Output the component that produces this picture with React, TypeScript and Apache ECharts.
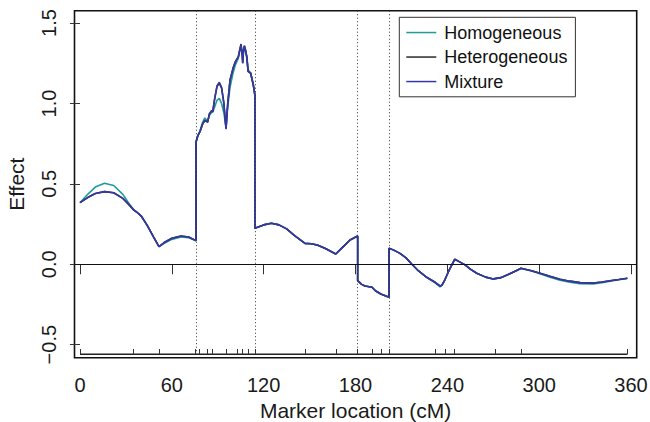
import React, { useRef, useEffect } from "react";
import * as echarts from "echarts";

// Marker locations (cM) along the chromosome
const positions = [
  0, 5, 10, 16, 22, 28, 33, 35, 37, 40, 44, 48, 51.6, 55, 60, 66, 71, 75.8,
  75.8, 77, 78.4, 80, 81.5, 83.4, 84.5, 86, 86.7, 88, 89.5, 91, 92.5, 94, 95.4, 96.5, 98, 100, 101.5, 103.4, 104.5, 105.2, 106, 106.3, 106.8, 107.4, 108.2, 109, 109.8, 111.5, 113.2, 114.2,
  114.2, 120, 125, 130, 135, 140, 147, 151, 155, 160, 167.1, 172, 176.4, 181.4,
  181.4, 184, 186.2, 190.8, 193, 196.5, 201.9,
  201.9, 205, 209, 213, 216.7, 221, 226.5, 232, 235.2, 236.5, 238.3, 241, 244.8, 248, 251.6, 255, 259.2, 265, 270, 275, 280, 285, 288.1, 295, 300.6, 307, 313.6, 320, 326.7, 335.4, 341, 346.3, 352, 357.6,
];

const homogeneous = [
  0.383, 0.435, 0.48, 0.504, 0.49, 0.435, 0.365, 0.34, 0.325, 0.3, 0.24, 0.17, 0.11, 0.13, 0.155, 0.17, 0.165, 0.147,
  0.76, 0.8, 0.83, 0.88, 0.91, 0.89, 0.925, 0.945, 0.945, 0.98, 1.02, 1.032, 1.0, 0.94, 0.85, 0.98, 1.1, 1.19, 1.24, 1.28, 1.33, 1.35, 1.31, 1.27, 1.32, 1.345, 1.32, 1.28, 1.21, 1.19, 1.12, 1.06,
  0.224, 0.245, 0.255, 0.245, 0.22, 0.18, 0.13, 0.128, 0.12, 0.1, 0.064, 0.11, 0.151, 0.176,
  -0.102, -0.125, -0.135, -0.143, -0.165, -0.185, -0.205,
  0.1, 0.088, 0.068, 0.04, 0.002, -0.04, -0.081, -0.115, -0.14, -0.13, -0.098, -0.04, 0.031, 0.015, -0.004, -0.03, -0.056, -0.08, -0.092, -0.084, -0.063, -0.04, -0.026, -0.042, -0.059, -0.08, -0.099, -0.112, -0.121, -0.122, -0.115, -0.105, -0.096, -0.088,
];

const heterogeneous = [
  0.383, 0.415, 0.44, 0.452, 0.445, 0.41, 0.36, 0.338, 0.325, 0.3, 0.24, 0.17, 0.11, 0.135, 0.162, 0.176, 0.17, 0.147,
  0.76, 0.8, 0.825, 0.87, 0.895, 0.885, 0.935, 0.955, 0.95, 1.03, 1.105, 1.125, 1.095, 1.0, 0.845, 1.0, 1.145, 1.22, 1.26, 1.29, 1.34, 1.37, 1.3, 1.25, 1.33, 1.36, 1.33, 1.29, 1.2, 1.188, 1.115, 1.053,
  0.224, 0.245, 0.255, 0.245, 0.22, 0.18, 0.13, 0.128, 0.12, 0.1, 0.064, 0.11, 0.151, 0.176,
  -0.102, -0.125, -0.135, -0.143, -0.165, -0.185, -0.205,
  0.1, 0.088, 0.068, 0.04, 0.002, -0.04, -0.081, -0.112, -0.135, -0.13, -0.098, -0.04, 0.031, 0.015, -0.004, -0.03, -0.056, -0.08, -0.091, -0.083, -0.062, -0.04, -0.025, -0.04, -0.056, -0.075, -0.093, -0.105, -0.114, -0.116, -0.11, -0.102, -0.095, -0.087,
];

const mixture = [
  0.383, 0.415, 0.44, 0.452, 0.445, 0.41, 0.36, 0.338, 0.325, 0.3, 0.24, 0.17, 0.11, 0.135, 0.162, 0.176, 0.17, 0.147,
  0.76, 0.8, 0.825, 0.87, 0.893, 0.885, 0.935, 0.955, 0.95, 1.03, 1.11, 1.132, 1.1, 1.0, 0.84, 1.0, 1.146, 1.22, 1.26, 1.29, 1.34, 1.364, 1.3, 1.25, 1.33, 1.358, 1.33, 1.29, 1.2, 1.188, 1.115, 1.053,
  0.224, 0.245, 0.255, 0.245, 0.22, 0.18, 0.13, 0.128, 0.12, 0.1, 0.064, 0.11, 0.151, 0.176,
  -0.102, -0.125, -0.135, -0.143, -0.165, -0.185, -0.205,
  0.1, 0.088, 0.068, 0.04, 0.002, -0.04, -0.081, -0.112, -0.135, -0.13, -0.098, -0.04, 0.031, 0.015, -0.004, -0.03, -0.056, -0.08, -0.091, -0.083, -0.062, -0.04, -0.025, -0.04, -0.056, -0.075, -0.093, -0.105, -0.114, -0.116, -0.11, -0.102, -0.095, -0.087,
];

// Genotyped markers shown as a rug at the bottom of the panel
const markers = [
  0, 35, 51.6, 75.6, 77.9, 83.4, 86.7, 95.4, 103, 106.3, 109.8, 114.2, 147.2, 167.1,
  181.4, 190.8, 196.5, 201.9, 232, 238.3, 244.8, 271.2, 288.1, 357.6,
];

// Dotted reference lines (interval boundaries)
const boundaries = [75.8, 114.2, 181.4, 201.9];

const xTicks = [0, 60, 120, 180, 240, 300, 360];
const yTicks = [-0.5, 0, 0.5, 1.0, 1.5];

const seriesNames = ["Homogeneous", "Heterogeneous", "Mixture"];
const seriesColors = ["#1f9c98", "#2a2a2a", "#3636a6"];

const FONT = "'Liberation Sans', Arial, Helvetica, sans-serif";
const Y_MIN = -0.581;
const Y_MAX = 1.577;
const RUG_Y = -0.56;
const RUG_TICK_TOP = -0.527;

export default function App() {
  const ref = useRef<HTMLDivElement>(null);

  useEffect(() => {
    document.body.style.margin = "0";
    const chart = echarts.init(ref.current!, null, { renderer: "svg" });

    const toPairs = (vals: number[]) => positions.map((p, i) => [p, vals[i]]);
    const valueSets = [homogeneous, heterogeneous, mixture];

    const markLineData: any[] = [];
    markers.forEach((m) => {
      markLineData.push([
        { coord: [m, RUG_Y], lineStyle: { color: "#333", width: 1, type: "solid" } },
        { coord: [m, RUG_TICK_TOP] },
      ]);
    });
    boundaries.forEach((b) => {
      markLineData.push([
        { coord: [b, Y_MAX], lineStyle: { color: "#333", width: 1, type: [1, 2.5] } },
        { coord: [b, RUG_Y] },
      ]);
    });
    markLineData.push({ yAxis: 0, lineStyle: { color: "#111", width: 1.2, type: "solid" } });

    chart.setOption({
      animation: false,
      backgroundColor: "#fff",
      textStyle: { fontFamily: FONT },
      grid: {
        left: 74.5,
        right: 13.3,
        top: 10.7,
        bottom: 64.3,
        show: true,
        borderColor: "#111",
        borderWidth: 1.6,
        backgroundColor: "transparent",
        outerBoundsMode: "none",
      },
      legend: {
        data: seriesNames,
        orient: "vertical",
        left: 399.3,
        top: 17.3,
        icon: "rect",
        itemWidth: 30,
        itemHeight: 1.5,
        itemGap: 6,
        padding: [6, 8, 6, 7],
        borderColor: "#333",
        borderWidth: 1,
        borderRadius: 0,
        backgroundColor: "#fff",
        selectedMode: false,
        textStyle: { fontSize: 18, color: "#111", lineHeight: 18.5, padding: [0, 0, 0, 3], fontFamily: FONT },
      },
      xAxis: {
        type: "value",
        min: -3.6,
        max: 363.7,
        splitLine: { show: false },
        axisLine: { show: false },
        axisTick: { show: true, length: 10, customValues: xTicks, lineStyle: { color: "#333", width: 1 } },
        axisLabel: { customValues: xTicks, fontSize: 20, color: "#1a1a1a", margin: 17, fontFamily: FONT },
        name: "Marker location (cM)",
        nameLocation: "middle",
        nameGap: 40,
        nameTextStyle: { fontSize: 21, color: "#1a1a1a", fontFamily: FONT },
      },
      yAxis: {
        type: "value",
        min: Y_MIN,
        max: Y_MAX,
        splitLine: { show: false },
        axisLine: { show: false },
        axisTick: { show: true, length: 10, customValues: yTicks, lineStyle: { color: "#333", width: 1 } },
        axisLabel: {
          customValues: yTicks,
          rotate: 90,
          fontSize: 20,
          color: "#1a1a1a",
          margin: 16,
          fontFamily: FONT,
          formatter: (v: number) => v.toFixed(1).replace("-", "\u2212"),
        },
        name: "Effect",
        nameLocation: "middle",
        nameGap: 48,
        nameRotate: 90,
        nameTextStyle: { fontSize: 21, color: "#1a1a1a", fontFamily: FONT },
      },
      series: [
        {
          name: "rug",
          type: "line",
          data: [
            [markers[0], RUG_Y],
            [markers[markers.length - 1], RUG_Y],
          ],
          symbol: "none",
          silent: true,
          lineStyle: { color: "#222", width: 1.5 },
          markLine: {
            symbol: ["none", "none"],
            silent: true,
            label: { show: false },
            emphasis: { disabled: true },
            data: markLineData,
          },
        },
        ...seriesNames.map((name, i) => ({
          name,
          type: "line",
          data: toPairs(valueSets[i]),
          symbol: "none",
          color: seriesColors[i],
          itemStyle: { color: seriesColors[i] },
          lineStyle: { color: seriesColors[i], width: 1.6 },
          emphasis: { disabled: true },
          silent: true,
        })),
      ],
    });

    return () => chart.dispose();
  }, []);

  return (
    <div
      ref={ref}
      style={{ width: 650, height: 422, position: "absolute", left: 0, top: 0 }}
    />
  );
}
